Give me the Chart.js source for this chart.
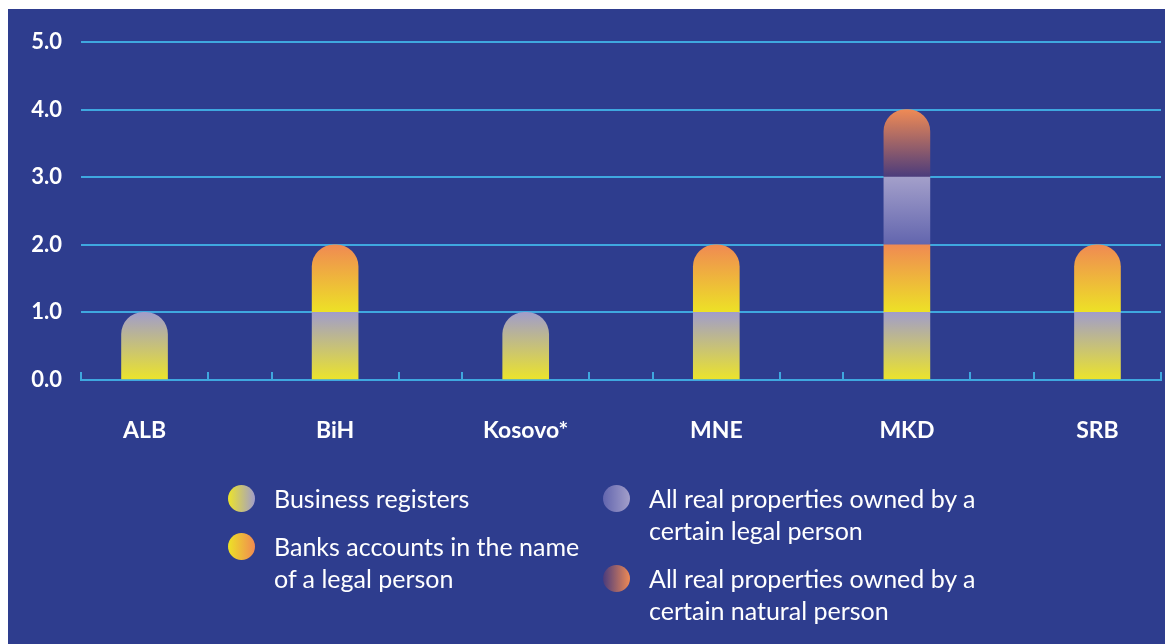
<!DOCTYPE html>
<html>
<head>
<meta charset="utf-8">
<script src="https://cdn.jsdelivr.net/npm/chart.js@4/dist/chart.umd.min.js"></script>
<style>
  html, body { margin: 0; padding: 0; background: #fff; }
  #wrap { position: relative; width: 1165px; height: 644px; overflow: hidden; }
  #panel { position: absolute; left: 8px; top: 9px; right: 0; bottom: 0; background: #2e3d8e; }
  #chartBox { position: absolute; left: 0; top: 0; width: 1165px; height: 644px; }
  #legend { position: absolute; left: 228px; top: 482px; font-family: Lato, sans-serif; font-size: 25px; color: #fff; }
  .col { position: absolute; top: 0; }
  .item { display: flex; align-items: flex-start; margin-bottom: 16px; }
  .dot { width: 27px; height: 27px; border-radius: 50%; margin-top: 2.5px; margin-right: 19px; flex: none; }
  .txt { display: block; line-height: 32px; }
</style>
</head>
<body>
<div id="wrap">
  <div id="panel"></div>
  <div id="chartBox"><canvas id="barChart"></canvas></div>
  <div id="legend"></div>
</div>
<script>
// ─── Data ───
const categories = ['ALB', 'BiH', 'Kosovo*', 'MNE', 'MKD', 'SRB'];
const seriesNames = [
  'Business registers',
  'Banks accounts in the name of a legal person',
  'All real properties owned by a certain legal person',
  'All real properties owned by a certain natural person'
];
const businessRegisters     = [1, 1, 1, 1, 1, 1];
const bankAccounts          = [0, 1, 0, 1, 1, 1];
const legalPersonProperty   = [0, 0, 0, 0, 1, 0];
const naturalPersonProperty = [0, 0, 0, 0, 1, 0];
const yTicks = [0, 1, 2, 3, 4, 5];

const series = [businessRegisters, bankAccounts, legalPersonProperty, naturalPersonProperty];

// gradient colours per series: bottom -> top (left -> right in legend)
const bottomColors = ['#ece42a', '#ede226', '#6265ae', '#4a3b7c'];
const topColors    = ['#a19dca', '#f08a52', '#a39fca', '#ef8a55'];
const lineColor = '#3fa8df';

function segmentGradient(ctx, di) {
  const chart = ctx.chart;
  if (!chart.chartArea || ctx.type !== 'data') return bottomColors[di];
  const y = chart.scales.y;
  const i = ctx.dataIndex;
  let base = 0;
  for (let d = 0; d < di; d++) base += series[d][i];
  const top = base + series[di][i];
  const y0 = y.getPixelForValue(base), y1 = y.getPixelForValue(top);
  if (y0 === y1) return bottomColors[di];
  const g = chart.ctx.createLinearGradient(0, y0, 0, y1);
  g.addColorStop(0, bottomColors[di]);
  g.addColorStop(1, topColors[di]);
  return g;
}

function isTopSegment(di, i) {
  if (!series[di][i]) return false;
  for (let d = di + 1; d < series.length; d++) if (series[d][i]) return false;
  return true;
}

const datasets = series.map((vals, di) => ({
  label: seriesNames[di],
  // zero values are left out so no empty stub is drawn
  data: vals.map((v, i) => ({ x: i, y: v === 0 ? null : v })),
  backgroundColor: ctx => segmentGradient(ctx, di),
  borderWidth: 0,
  barThickness: 46,
  borderSkipped: 'start',
  borderRadius: ctx => (ctx.type === 'data' && isTopSegment(di, ctx.dataIndex))
    ? { topLeft: 22, topRight: 22, bottomLeft: 0, bottomRight: 0 } : 0
}));

// ─── small upward tick marks on the x axis ───
const axisTicks = {
  id: 'axisTicks',
  beforeDatasetsDraw(chart) {
    const { ctx, chartArea, scales: { x } } = chart;
    ctx.save();
    ctx.strokeStyle = lineColor;
    ctx.lineWidth = 2;
    x.ticks.forEach(t => {
      const px = Math.round(x.getPixelForValue(t.value));
      ctx.beginPath();
      ctx.moveTo(px, chartArea.bottom);
      ctx.lineTo(px, chartArea.bottom - 8);
      ctx.stroke();
    });
    ctx.restore();
  }
};

const chart = new Chart(document.getElementById('barChart'), {
  type: 'bar',
  data: { datasets },
  plugins: [axisTicks],
  options: {
    responsive: true,
    maintainAspectRatio: false,
    animation: false,
    layout: { padding: { top: 42, right: 4, left: 0, bottom: 0 } },
    plugins: { legend: { display: false }, tooltip: { enabled: false } },
    scales: {
      x: {
        type: 'linear',
        stacked: true,
        offset: false,
        min: -1 / 3,
        max: categories.length - 1 + 1 / 3,
        afterBuildTicks: scale => {
          const t = [];
          for (let k = 0; k <= (categories.length - 1) * 3 + 2; k++) t.push({ value: -1 / 3 + k / 3 });
          scale.ticks = t;
        },
        afterFit: scale => {
          scale.height = 264;
          scale.paddingLeft = 0;
          scale.paddingRight = 0;
        },
        grid: { display: true, offset: false, drawOnChartArea: false, drawTicks: false },
        border: { display: true, color: lineColor, width: 2 },
        ticks: {
          autoSkip: false,
          maxRotation: 0,
          padding: 37,
          color: '#fff',
          font: { family: 'Lato', size: 23, weight: 'bold' },
          callback: v => {
            const i = Math.round(v);
            return Math.abs(v - i) < 1e-6 && categories[i] ? categories[i] : '';
          }
        }
      },
      y: {
        stacked: true,
        min: yTicks[0],
        max: yTicks[yTicks.length - 1],
        afterFit: scale => { scale.width = 81; },
        grid: { color: lineColor, lineWidth: 2, drawTicks: false },
        border: { display: false },
        ticks: {
          stepSize: 1,
          padding: 19,
          color: '#fff',
          font: { family: 'Lato', size: 22, weight: 'bold' },
          callback: v => v.toFixed(1)
        }
      }
    }
  }
});

// ─── HTML legend built from the chart's datasets ───
function buildLegend(chart) {
  const box = document.getElementById('legend');
  box.innerHTML = '';
  const cols = [{ left: 0, width: 320, idx: [0, 1] }, { left: 375, width: 345, idx: [2, 3] }];
  cols.forEach(c => {
    const col = document.createElement('div');
    col.className = 'col';
    col.style.left = c.left + 'px';
    col.style.width = (c.width + 46) + 'px';
    c.idx.forEach(di => {
      const ds = chart.data.datasets[di];
      const item = document.createElement('div');
      item.className = 'item';
      const dot = document.createElement('span');
      dot.className = 'dot';
      dot.style.background = `linear-gradient(to right, ${bottomColors[di]}, ${topColors[di]})`;
      const txt = document.createElement('span');
      txt.className = 'txt';
      txt.style.width = c.width + 'px';
      txt.textContent = ds.label;
      item.appendChild(dot);
      item.appendChild(txt);
      col.appendChild(item);
    });
    box.appendChild(col);
  });
}
buildLegend(chart);
</script>
</body>
</html>
